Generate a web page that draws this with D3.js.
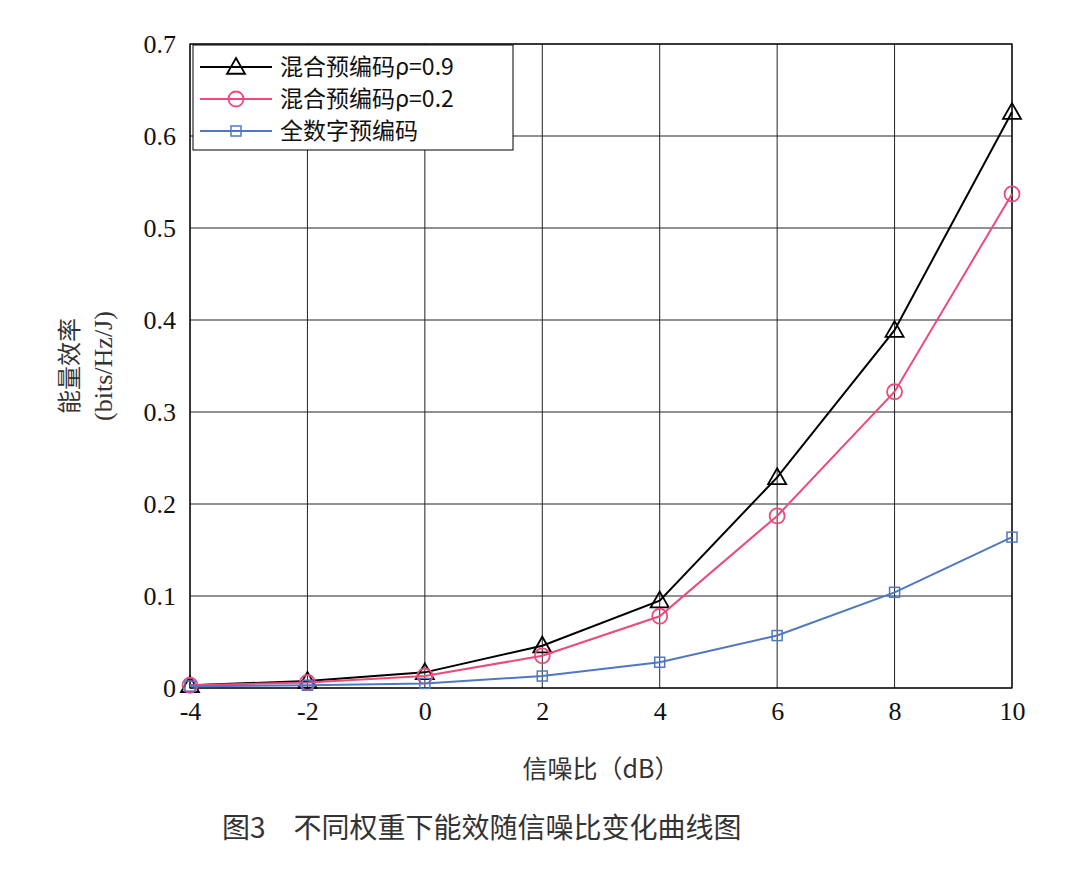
<!DOCTYPE html><html><head><meta charset="utf-8"><script src="https://cdn.jsdelivr.net/npm/d3@7"></script>
<style>body{margin:0;background:#fff}</style></head><body><svg id="c" width="1080" height="875"></svg>
<script>
const snr=[-4,-2,0,2,4,6,8,10];
const hyb09=[0.003,0.0076,0.017,0.046,0.095,0.229,0.389,0.626];
const hyb02=[0.003,0.006,0.013,0.035,0.078,0.187,0.322,0.537];
const digital=[0.002,0.003,0.005,0.013,0.028,0.057,0.104,0.164];
const names=["混合预编码ρ=0.9","混合预编码ρ=0.2","全数字预编码"];
const colors=["#000000","#ee4a79","#4f78c4"];
const yTicks=[0,0.1,0.2,0.3,0.4,0.5,0.6,0.7];
const serif="'Liberation Serif','Times New Roman',serif", cjk="'Noto Sans CJK SC',sans-serif";
const svg=d3.select("#c");
const L=190,R=1012,T=44,B=688;
const x=d3.scaleLinear().domain([-4,10]).range([L,R]);
const y=d3.scaleLinear().domain([0,0.7]).range([B,T]);
const g=svg.append("g");
snr.forEach(v=>g.append("line").attr("x1",x(v)).attr("x2",x(v)).attr("y1",T).attr("y2",B).attr("stroke","#222").attr("stroke-width",1));
yTicks.forEach(v=>g.append("line").attr("x1",L).attr("x2",R).attr("y1",y(v)).attr("y2",y(v)).attr("stroke","#222").attr("stroke-width",1));
g.append("rect").attr("x",L).attr("y",T).attr("width",R-L).attr("height",B-T).attr("fill","none").attr("stroke","#000").attr("stroke-width",1.2);
const xa=svg.append("g").attr("transform",`translate(0,${B})`).call(d3.axisBottom(x).tickValues(snr).tickSize(0).tickPadding(14).tickFormat(d=>String(d)));
const ya=svg.append("g").attr("transform",`translate(${L},0)`).call(d3.axisLeft(y).tickValues(yTicks).tickSize(0).tickPadding(14).tickFormat(d=>d===0?"0":d3.format(".1f")(d)));
[xa,ya].forEach(a=>{a.select(".domain").remove();a.selectAll("text").attr("font-family",serif).attr("font-size",26).attr("fill","#111");});
const series=[hyb09,hyb02,digital];
const line=d3.line().x((d,i)=>x(snr[i])).y(d=>y(d));
function marker(sel,k,cx,cy){
 if(k===0){const s=9;sel.append("path").attr("d",`M${cx},${cy-s}L${cx+s},${cy+s*0.75}L${cx-s},${cy+s*0.75}Z`).attr("fill","none").attr("stroke",colors[k]).attr("stroke-width",1.8);}
 else if(k===1)sel.append("circle").attr("cx",cx).attr("cy",cy).attr("r",7.5).attr("fill","none").attr("stroke",colors[k]).attr("stroke-width",1.8);
 else sel.append("rect").attr("x",cx-5).attr("y",cy-5).attr("width",10).attr("height",10).attr("fill","none").attr("stroke",colors[k]).attr("stroke-width",1.5);
}
series.forEach((s,k)=>{
 svg.append("path").datum(s).attr("d",line).attr("fill","none").attr("stroke",colors[k]).attr("stroke-width",2);
 s.forEach((v,i)=>marker(svg,k,x(snr[i]),y(v)));
});
const lg=svg.append("g");
lg.append("rect").attr("x",193).attr("y",45).attr("width",320).attr("height",105).attr("fill","#fff").attr("stroke","#000").attr("stroke-width",1);
names.forEach((n,k)=>{const cy=67+k*32;
 lg.append("line").attr("x1",200).attr("x2",272).attr("y1",cy).attr("y2",cy).attr("stroke",colors[k]).attr("stroke-width",2);
 marker(lg,k,236,cy);
 lg.append("text").attr("x",280).attr("y",cy+8).attr("font-family",cjk).attr("font-size",23).attr("fill","#111").text(n);
});
svg.append("text").attr("transform","translate(78,366) rotate(-90)").attr("text-anchor","middle").attr("font-family",cjk).attr("font-size",24).attr("fill","#333").text("能量效率");
svg.append("text").attr("transform","translate(112,366) rotate(-90)").attr("text-anchor","middle").attr("font-family",serif).attr("font-size",26).attr("fill","#333").text("(bits/Hz/J)");
svg.append("text").attr("x",601).attr("y",778).attr("text-anchor","middle").attr("font-family",cjk).attr("font-size",25).attr("fill","#333").text("信噪比（dB）");
svg.append("text").attr("x",222).attr("y",838).attr("font-family",cjk).attr("font-size",28).attr("fill","#333").text("图3　不同权重下能效随信噪比变化曲线图");
</script></body></html>
